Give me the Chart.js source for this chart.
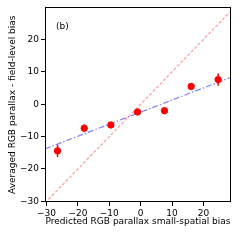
<!DOCTYPE html>
<html>
<head>
<meta charset="utf-8">
<script src="https://cdn.jsdelivr.net/npm/chart.js@4"></script>
<style>
  html, body { margin: 0; padding: 0; background: #fff; }
  #wrap { width: 240px; height: 240px; }
</style>
</head>
<body>
<div id="wrap"><canvas id="chartBias" width="240" height="240"></canvas></div>
<script>
// ---- data ----
const predX   = [-26.5, -18.0, -9.5, -1.0, 7.6, 16.1, 24.7];   // predicted small-spatial bias
const avgY    = [-14.4, -7.4, -6.4, -2.4, -2.0, 5.5, 7.6];     // averaged field-level bias
const errY    = [1.9, 1.1, 0.7, 0.7, 0.6, 1.0, 1.9];

const fitX    = [-30.5, 28.8];     // blue dash-dot fit
const fitY    = [-13.8, 8.3];
const oneX    = [-30.5, 29.9];     // 1:1 line
const oneY    = [-30.5, 29.9];

const xTicks  = [-30, -20, -10, 0, 10, 20];
const yTicks  = [-30, -20, -10, 0, 10, 20];
const xRange  = [-30.5, 28.8];
const yRange  = [-30.2, 29.9];

const panelTag = "(b)";
const xTitle = "Predicted RGB parallax small-spatial bias";
const yTitle = "Averaged RGB parallax - field-level bias";

const FONT = "DejaVu Sans";
const minus = v => String(v).replace("-", "\u2212");

// error bars + frame + panel tag
const extras = {
  id: "extras",
  beforeDatasetsDraw(chart) {
    const { ctx, scales: { x, y } } = chart;
    ctx.save();
    ctx.strokeStyle = "red";
    ctx.lineWidth = 1.5;
    predX.forEach((px, i) => {
      const cx = x.getPixelForValue(px);
      ctx.beginPath();
      ctx.moveTo(cx, y.getPixelForValue(avgY[i] - errY[i]));
      ctx.lineTo(cx, y.getPixelForValue(avgY[i] + errY[i]));
      ctx.stroke();
    });
    ctx.restore();
  },
  afterDraw(chart) {
    const { ctx, chartArea: a, scales: { x, y } } = chart;
    ctx.save();
    ctx.strokeStyle = "#000";
    ctx.lineWidth = 1;
    ctx.strokeRect(Math.round(a.left) + 0.5, Math.round(a.top) + 0.5,
                   Math.round(a.right - a.left) - 1, Math.round(a.bottom - a.top) - 1);
    ctx.fillStyle = "#000";
    ctx.font = "9px '" + FONT + "'";
    ctx.textBaseline = "middle";
    ctx.fillText(panelTag, x.getPixelForValue(-27.0), y.getPixelForValue(24.1));
    ctx.restore();
  }
};

const scatterPts = predX.map((v, i) => ({ x: v, y: avgY[i] }));
const fitPts = fitX.map((v, i) => ({ x: v, y: fitY[i] }));
const onePts = oneX.map((v, i) => ({ x: v, y: oneY[i] }));

new Chart(document.getElementById("chartBias"), {
  type: "scatter",
  data: {
    datasets: [
      {
        data: scatterPts,
        backgroundColor: "red",
        borderColor: "red",
        pointRadius: 3.2,
        pointHoverRadius: 3.2,
        order: 0
      },
      {
        type: "line",
        data: onePts,
        borderColor: "rgba(255,0,0,0.4)",
        borderWidth: 1.2,
        borderDash: [3, 2],
        pointRadius: 0,
        fill: false,
        order: 2
      },
      {
        type: "line",
        data: fitPts,
        borderColor: "rgba(0,0,255,0.5)",
        borderWidth: 1.2,
        borderDash: [6, 2, 1.5, 2],
        pointRadius: 0,
        fill: false,
        order: 1
      }
    ]
  },
  options: {
    responsive: false,
    animation: false,
    events: [],
    layout: { padding: { left: 0, top: 6, right: 9, bottom: 0 } },
    plugins: { legend: { display: false }, tooltip: { enabled: false } },
    scales: {
      x: {
        type: "linear",
        min: xRange[0],
        max: xRange[1],
        afterBuildTicks: s => { s.ticks = xTicks.map(v => ({ value: v })); },
        afterFit: s => { s.height = 38; },
        grid: { drawOnChartArea: false, drawTicks: true, tickLength: 4, color: "#000" },
        border: { display: false },
        ticks: {
          color: "#000", padding: 2, maxRotation: 0,
          font: { family: FONT, size: 9 },
          callback: v => minus(v)
        },
        title: {
          display: true, text: xTitle, color: "#000",
          font: { family: FONT, size: 9 },
          padding: { top: 0, bottom: 13 }
        }
      },
      y: {
        type: "linear",
        min: yRange[0],
        max: yRange[1],
        afterBuildTicks: s => { s.ticks = yTicks.map(v => ({ value: v })); },
        afterFit: s => { s.width = 45; },
        grid: { drawOnChartArea: false, drawTicks: true, tickLength: 4, color: "#000" },
        border: { display: false },
        ticks: {
          color: "#000", padding: 2,
          font: { family: FONT, size: 9 },
          callback: v => minus(v)
        },
        title: {
          display: true, text: yTitle, color: "#000",
          font: { family: FONT, size: 9 },
          padding: { top: 7, bottom: 0 }
        }
      }
    }
  },
  plugins: [extras]
});
</script>
</body>
</html>
